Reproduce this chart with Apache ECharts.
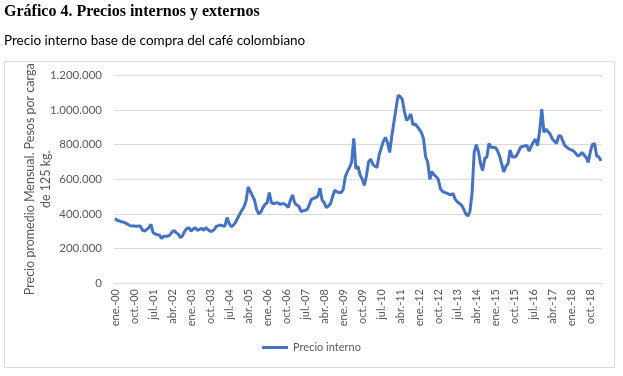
<!DOCTYPE html>
<html>
<head>
<meta charset="utf-8">
<script src="https://cdn.jsdelivr.net/npm/echarts@6/dist/echarts.min.js"></script>
<style>
  html, body { margin: 0; padding: 0; background: #fff; }
  #chart { width: 623px; height: 376px; }
</style>
</head>
<body>
<div id="chart"></div>
<script>
// meses y años del eje
const months = ['ene.', 'feb.', 'mar.', 'abr.', 'may.', 'jun.', 'jul.', 'ago.', 'sep.', 'oct.', 'nov.', 'dic.'];
const years = ['00','01','02','03','04','05','06','07','08','09','10','11','12','13','14','15','16','17','18','19'];

// precio interno, miles de pesos por carga (ene-00 .. mar-19)
const p2000 = [374, 362, 360, 354, 352, 346, 340, 332, 329, 330, 328, 329];
const p2001 = [329, 305, 300, 310, 320, 339, 291, 283, 280, 277, 258, 270];
const p2002 = [271, 271, 278, 295, 304, 290, 281, 262, 275, 300, 315, 320];
const p2003 = [300, 312, 320, 304, 310, 316, 305, 320, 308, 300, 300, 310];
const p2004 = [329, 332, 335, 330, 329, 378, 345, 325, 335, 350, 375, 397];
const p2005 = [420, 440, 474, 555, 530, 505, 480, 426, 400, 410, 436, 455];
const p2006 = [465, 523, 465, 459, 462, 465, 455, 458, 459, 450, 436, 480];
const p2007 = [509, 465, 450, 445, 413, 418, 420, 426, 455, 484, 490, 494];
const p2008 = [503, 548, 480, 465, 436, 445, 459, 500, 536, 528, 523, 523];
const p2009 = [540, 615, 645, 668, 700, 836, 660, 675, 625, 600, 565, 620];
const p2010 = [700, 716, 687, 675, 668, 740, 780, 820, 842, 810, 755, 850];
const p2011 = [930, 1010, 1085, 1078, 1060, 990, 940, 955, 977, 915, 920, 905];
const p2012 = [890, 870, 835, 730, 700, 600, 645, 625, 615, 600, 545, 530];
const p2013 = [523, 520, 513, 510, 517, 485, 470, 460, 450, 428, 400, 387];
const p2014 = [415, 520, 755, 800, 760, 690, 650, 720, 728, 807, 785, 784];
const p2015 = [784, 765, 735, 690, 642, 675, 690, 770, 730, 728, 735, 760];
const p2016 = [785, 790, 793, 795, 762, 790, 815, 832, 795, 880, 1006, 871];
const p2017 = [890, 875, 860, 832, 820, 807, 851, 850, 820, 793, 784, 774];
const p2018 = [770, 764, 750, 735, 740, 755, 740, 726, 697, 760, 803, 805];
const p2019 = [735, 729, 706];

const precioInterno = [].concat(p2000, p2001, p2002, p2003, p2004, p2005, p2006, p2007, p2008, p2009,
  p2010, p2011, p2012, p2013, p2014, p2015, p2016, p2017, p2018, p2019).map(v => v * 1000);

const categories = [];
years.forEach(y => months.forEach(m => categories.push(m + '-' + y)));
categories.length = precioInterno.length;

const yTicks = [0, 200000, 400000, 600000, 800000, 1000000, 1200000];

const chart = echarts.init(document.getElementById('chart'), null, { renderer: 'canvas' });

const gris = '#595959';
const fmt = v => String(v).replace(/\B(?=(\d{3})+(?!\d))/g, '.');

chart.setOption({
  animation: false,
  title: [
    {
      text: 'Gráfico 4. Precios internos y externos',
      left: 4, top: 4, padding: 0,
      textStyle: { fontFamily: 'Liberation Serif', fontWeight: 'bold', fontSize: 16, color: '#000' }
    },
    {
      text: 'Precio interno base de compra del café colombiano',
      left: 4, top: 34, padding: 0,
      textStyle: { fontFamily: 'Lato', fontWeight: 'normal', fontSize: 13.5, color: '#000' }
    }
  ],
  graphic: [
    {
      type: 'rect',
      shape: { x: 4.5, y: 61.5, width: 610, height: 306 },
      style: { fill: 'none', stroke: '#d9d9d9', lineWidth: 1 },
      silent: true
    }
  ],
  legend: {
    bottom: 18,
    left: 'center',
    itemWidth: 26,
    itemHeight: 3,
    icon: 'rect',
    textStyle: { fontFamily: 'Lato', fontSize: 11, color: gris }
  },
  grid: { left: 114, right: 21, top: 75.5, height: 207.5 },
  xAxis: {
    type: 'category',
    data: categories,
    boundaryGap: true,
    axisLine: { lineStyle: { color: '#d9d9d9' } },
    axisTick: { show: false },
    axisLabel: {
      interval: 8,
      rotate: 90,
      color: gris,
      fontFamily: 'Lato',
      fontSize: 11,
      margin: 6
    }
  },
  yAxis: {
    type: 'value',
    min: yTicks[0],
    max: yTicks[yTicks.length - 1],
    interval: 200000,
    name: 'Precio promedio Mensual. Pesos por carga\nde 125 kg.',
    nameLocation: 'middle',
    nameGap: 60,
    nameMoveOverlap: false,
    nameTextStyle: { fontFamily: 'Lato', fontSize: 12.5, color: gris, lineHeight: 16 },
    axisLine: { show: false },
    axisTick: { show: false },
    splitLine: { lineStyle: { color: '#d9d9d9' } },
    axisLabel: {
      color: gris,
      fontFamily: 'Lato',
      fontSize: 11.5,
      margin: 12,
      formatter: fmt
    }
  },
  series: [
    {
      name: 'Precio interno',
      type: 'line',
      data: precioInterno,
      showSymbol: false,
      lineStyle: { color: '#4472C4', width: 3 },
      itemStyle: { color: '#4472C4' }
    }
  ]
});
</script>
</body>
</html>
